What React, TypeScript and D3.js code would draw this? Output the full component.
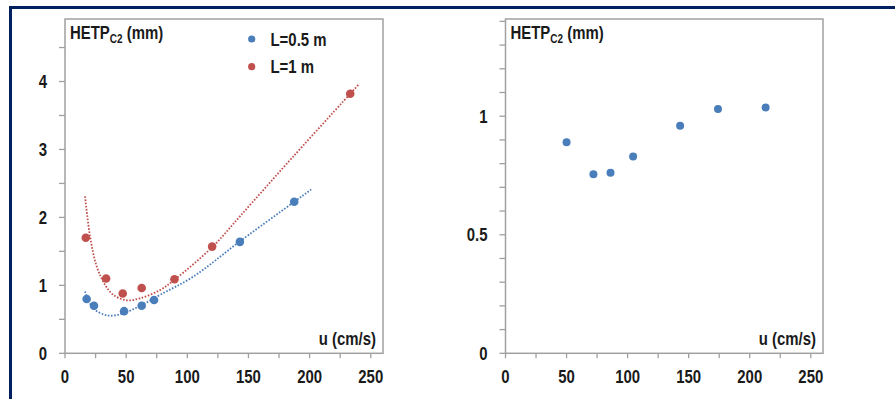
import React from "react";
import * as d3 from "d3";

// Left panel: HETP of C2 vs u for two column lengths
const blueU = [17.7, 23.7, 48.3, 62.7, 72.8, 143, 187.4];
const blueH = [0.8, 0.7, 0.62, 0.7, 0.785, 1.64, 2.23];
const redU = [17, 33.6, 47.2, 62.7, 89.5, 120.3, 233.2];
const redH = [1.7, 1.1, 0.88, 0.96, 1.09, 1.57, 3.82];

// Dotted trend lines
const blueTrendU = [16.4, 23.2, 35.5, 47.7, 62.7, 77.7, 105, 143.2, 201.3];
const blueTrendH = [0.91, 0.66, 0.555, 0.59, 0.71, 0.86, 1.13, 1.65, 2.41];
const redTrendU = [16.4, 20.5, 25.9, 32.7, 39.5, 50.4, 61.4, 77.7, 90, 120.8, 143.2, 186.8, 240.8];
const redTrendH = [2.31, 1.72, 1.28, 1.01, 0.86, 0.78, 0.81, 0.93, 1.09, 1.57, 2.02, 2.9, 3.97];

// Right panel
const rightU = [50, 72, 86, 104.5, 143, 174, 213];
const rightH = [0.89, 0.755, 0.762, 0.83, 0.96, 1.03, 1.037];

const legendLabels = ["L=0.5 m", "L=1 m"];
const xTickLabels = [0, 50, 100, 150, 200, 250];
const leftYTickLabels = [0, 1, 2, 3, 4];
const rightYTickLabels = [0, 0.5, 1];

const BLUE = "#4a7ebb";
const RED = "#c0504d";
const AXIS = "#a0a0a0";
const NAVY = "#002060";
const FONT = "'Liberation Sans', Arial, sans-serif";
const SX = 0.83;

type NTextProps = {
  x: number;
  y: number;
  anchor?: "start" | "middle" | "end";
  size?: number;
  children: React.ReactNode;
};

function NText({ x, y, anchor = "start", size = 18, children }: NTextProps) {
  return (
    <g transform={`translate(${x},${y}) scale(${SX},1)`}>
      <text x={0} y={0} textAnchor={anchor} fontSize={size} fontWeight="bold" fontFamily={FONT} fill="#1a1a1a">
        {children}
      </text>
    </g>
  );
}

type PanelProps = {
  left: number;
  right: number;
  top: number;
  bottom: number;
  yMax: number;
  yMajor: number[];
  yMinorStep: number;
  children: (x: d3.ScaleLinear<number, number>, y: d3.ScaleLinear<number, number>) => React.ReactNode;
};

function Panel({ left, right, top, bottom, yMax, yMajor, yMinorStep, children }: PanelProps) {
  const x = d3.scaleLinear().domain([0, 260]).range([left, right]);
  const y = d3.scaleLinear().domain([0, yMax]).range([bottom, top]);
  const xMinor = d3.range(0, 251, 25);
  const nMinor = Math.floor(yMax / yMinorStep + 1e-6);
  const yMinor = d3.range(0, nMinor + 1).map((i) => +(i * yMinorStep).toFixed(4));
  return (
    <g>
      <rect x={left} y={top} width={right - left} height={bottom - top} fill="white" stroke={AXIS} strokeWidth={1.5} />
      {xMinor.map((v) => (
        <line key={"xt" + v} x1={x(v)} x2={x(v)} y1={bottom} y2={bottom + 5} stroke={AXIS} strokeWidth={1.3} />
      ))}
      {yMinor.map((v) => (
        <line key={"yt" + v} x1={left - 6} x2={left} y1={y(v)} y2={y(v)} stroke={AXIS} strokeWidth={1.3} />
      ))}
      {xTickLabels.map((v) => (
        <NText key={"xl" + v} x={x(v)} y={bottom + 30} anchor="middle">
          {v}
        </NText>
      ))}
      {yMajor.map((v) => (
        <NText key={"yl" + v} x={left - 18} y={y(v) + 6.5} anchor="end">
          {String(v)}
        </NText>
      ))}
      <NText x={left + 5} y={top + 20}>
        HETP
        <tspan fontSize={12} dy={4}>C2</tspan>
        <tspan dy={-4}> (mm)</tspan>
      </NText>
      <NText x={right - 7} y={bottom - 8} anchor="end">
        u (cm/s)
      </NText>
      {children(x, y)}
    </g>
  );
}

export default function App() {
  const lineGen = (x: d3.ScaleLinear<number, number>, y: d3.ScaleLinear<number, number>, us: number[], hs: number[]) =>
    d3
      .line<number>()
      .x((_, i) => x(us[i]))
      .y((h) => y(h))
      .curve(d3.curveCatmullRom.alpha(0.5))(hs) || "";

  return (
    <svg width={895} height={399} style={{ position: "absolute", left: 0, top: 0, display: "block", background: "white" }}>
      <rect x={0} y={0} width={895} height={399} fill="white" />
      <rect x={9} y={6} width={886} height={3} fill={NAVY} />
      <rect x={9} y={6} width={3} height={393} fill={NAVY} />

      <Panel left={65} right={383} top={19} bottom={353.3} yMax={4.92} yMajor={leftYTickLabels} yMinorStep={0.5}>
        {(x, y) => (
          <g>
            <path d={lineGen(x, y, redTrendU, redTrendH)} fill="none" stroke={RED} strokeWidth={1.8} strokeDasharray="1.6 1.6" />
            <path d={lineGen(x, y, blueTrendU, blueTrendH)} fill="none" stroke={BLUE} strokeWidth={1.8} strokeDasharray="1.6 1.6" />
            {redU.map((u, i) => (
              <circle key={"r" + i} cx={x(u)} cy={y(redH[i])} r={4.3} fill={RED} />
            ))}
            {blueU.map((u, i) => (
              <circle key={"b" + i} cx={x(u)} cy={y(blueH[i])} r={4.3} fill={BLUE} />
            ))}
            {legendLabels.map((lab, i) => (
              <g key={lab}>
                <circle cx={251.7} cy={39 + i * 27.7} r={3.6} fill={i === 0 ? BLUE : RED} />
                <NText x={270.5} y={45.5 + i * 27.7}>
                  {lab}
                </NText>
              </g>
            ))}
          </g>
        )}
      </Panel>

      <Panel left={505.5} right={823} top={19} bottom={353.3} yMax={1.41} yMajor={rightYTickLabels} yMinorStep={0.1}>
        {(x, y) => (
          <g>
            {rightU.map((u, i) => (
              <circle key={"g" + i} cx={x(u)} cy={y(rightH[i])} r={4} fill={BLUE} />
            ))}
          </g>
        )}
      </Panel>
    </svg>
  );
}
